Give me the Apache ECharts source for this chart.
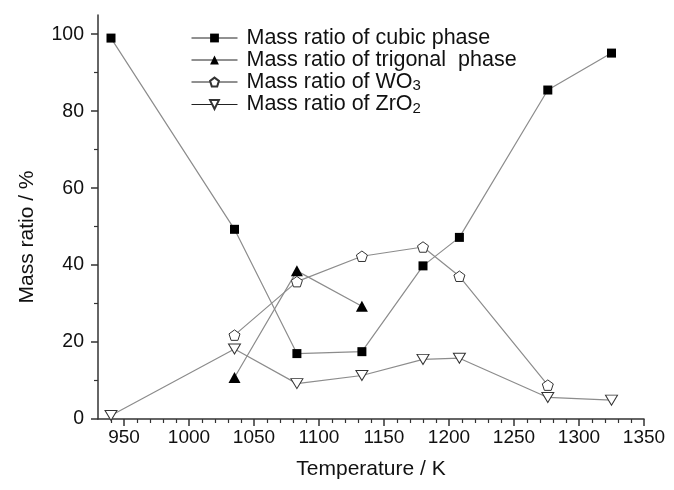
<!DOCTYPE html>
<html>
<head>
<meta charset="utf-8">
<script src="https://cdn.jsdelivr.net/npm/echarts@6/dist/echarts.min.js"></script>
<style>
	html, body { margin: 0; padding: 0; background: #fff; }
	#e_chart_1 { width: 674px; height: 490px; }
</style>
</head>
<body>
<div id="e_chart_1"></div>
<script>
// temperatures (K) and mass ratios (%)
var tempAll = [940, 1035, 1083, 1133, 1180, 1208, 1276, 1325];
var cubicVals = [99, 49.3, 17, 17.5, 39.8, 47.2, 85.5, 95.1];
var tempTrig = [1035, 1083, 1133];
var trigVals = [10.8, 38.5, 29.3];
var tempWO3 = [1035, 1083, 1133, 1180, 1208, 1276];
var wo3Vals = [21.8, 35.7, 42.3, 44.7, 37.1, 8.8];
var zro2Vals = [0.9, 18.2, 9.2, 11.3, 15.5, 15.8, 5.6, 4.9];

var seriesNames = ['Mass ratio of cubic phase', 'Mass ratio of trigonal  phase', 'Mass ratio of WO3', 'Mass ratio of ZrO2'];

var xMajor = [950, 1000, 1050, 1100, 1150, 1200, 1250, 1300, 1350];
var xMinor = [940, 960, 970, 980, 990, 1010, 1020, 1030, 1040, 1060, 1070, 1080, 1090, 1110, 1120, 1130, 1140, 1160, 1170, 1180, 1190, 1210, 1220, 1230, 1240, 1260, 1270, 1280, 1290, 1310, 1320, 1330, 1340];
var yMajor = [0, 20, 40, 60, 80, 100];
var yMinor = [10, 30, 50, 70, 90];

function pairs(xs, ys){
	var out = [];
	xs.forEach(function(x, i){ out.push([x, ys[i]]); });
	return out;
}

var pentagon = 'path://M0,-10 L9.51,-3.09 L5.88,8.09 L-5.88,8.09 L-9.51,-3.09 Z';
var downTri = 'path://M0,0 L12,0 L6,10 Z';

var lineGray = '#8c8c8c';
var axisCol = '#333';
var fontFam = "'Liberation Sans', Arial, sans-serif";

var dom = document.getElementById('e_chart_1');
var myChart = echarts.init(dom);

var option = {
	animation: false,
	backgroundColor: '#fff',
	grid: {
		left: 98,
		right: 30,
		top: 15,
		bottom: 71
	},
	legend: {
		orient: 'vertical',
		left: 186,
		top: 22,
		itemGap: 0,
		itemWidth: 46,
		itemHeight: 11,
		data: seriesNames,
		lineStyle: { color: '#222', width: 1 },
		formatter: function(name){
			if (name == 'Mass ratio of WO3') return 'Mass ratio of WO{sub|3}';
			if (name == 'Mass ratio of ZrO2') return 'Mass ratio of ZrO{sub|2}';
			return name;
		},
		textStyle: {
			fontFamily: fontFam,
			fontSize: 21.5,
			color: '#111',
			padding: [0, 0, 0, 4],
			rich: {
				sub: { fontFamily: fontFam, fontSize: 15, color: '#111', padding: [8, 0, 0, 0] }
			}
		}
	},
	xAxis: [{
		type: 'value',
		min: 930,
		max: 1350,
		name: 'Temperature / K',
		nameLocation: 'middle',
		nameGap: 40,
		nameTextStyle: { fontFamily: fontFam, fontSize: 21, color: '#111' },
		axisLine: { show: true, lineStyle: { color: axisCol, width: 1.5 } },
		axisTick: { show: true, length: 7, customValues: xMajor, lineStyle: { color: axisCol, width: 1.5 } },
		axisLabel: {
			customValues: xMajor,
			margin: 9,
			fontFamily: fontFam,
			fontSize: 19,
			color: '#111',
			formatter: function(v){ return String(v); }
		},
		splitLine: { show: false }
	}, {
		type: 'value',
		position: 'bottom',
		min: 930,
		max: 1350,
		axisLine: { show: false },
		axisTick: { show: true, length: 4, customValues: xMinor, lineStyle: { color: axisCol, width: 1.2 } },
		axisLabel: { show: false },
		splitLine: { show: false }
	}],
	yAxis: [{
		type: 'value',
		min: 0,
		max: 105,
		name: 'Mass ratio / %',
		nameLocation: 'middle',
		nameGap: 60,
		nameTextStyle: { fontFamily: fontFam, fontSize: 21, color: '#111', padding: [0, 0, 0, -40] },
		axisLine: { show: true, lineStyle: { color: axisCol, width: 1.5 } },
		axisTick: { show: true, length: 7, customValues: yMajor, lineStyle: { color: axisCol, width: 1.5 } },
		axisLabel: {
			customValues: yMajor,
			margin: 14,
			fontFamily: fontFam,
			fontSize: 19.5,
			color: '#111',
			formatter: function(v){ return String(v); }
		},
		splitLine: { show: false }
	}, {
		type: 'value',
		position: 'left',
		min: 0,
		max: 105,
		axisLine: { show: false },
		axisTick: { show: true, length: 4, customValues: yMinor, lineStyle: { color: axisCol, width: 1.2 } },
		axisLabel: { show: false },
		splitLine: { show: false }
	}],
	series: [{
		name: seriesNames[0],
		type: 'line',
		xAxisIndex: 0,
		yAxisIndex: 0,
		symbol: 'rect',
		symbolSize: 9,
		lineStyle: { color: lineGray, width: 1.2 },
		itemStyle: { color: '#000', borderColor: '#000', borderWidth: 0 },
		data: pairs(tempAll, cubicVals)
	}, {
		name: seriesNames[1],
		type: 'line',
		symbol: 'triangle',
		symbolSize: [12, 11],
		lineStyle: { color: lineGray, width: 1.2 },
		itemStyle: { color: '#000', borderColor: '#000', borderWidth: 0 },
		data: pairs(tempTrig, trigVals)
	}, {
		name: seriesNames[2],
		type: 'line',
		symbol: pentagon,
		symbolSize: 11,
		symbolKeepAspect: true,
		lineStyle: { color: lineGray, width: 1.2 },
		itemStyle: { color: '#fff', borderColor: '#333', borderWidth: 1 },
		data: pairs(tempWO3, wo3Vals)
	}, {
		name: seriesNames[3],
		type: 'line',
		symbol: downTri,
		symbolSize: [12, 10],
		lineStyle: { color: lineGray, width: 1.2 },
		itemStyle: { color: '#fff', borderColor: '#333', borderWidth: 1 },
		data: pairs(tempAll, zro2Vals)
	}]
};

myChart.setOption(option, true);
</script>
</body>
</html>
